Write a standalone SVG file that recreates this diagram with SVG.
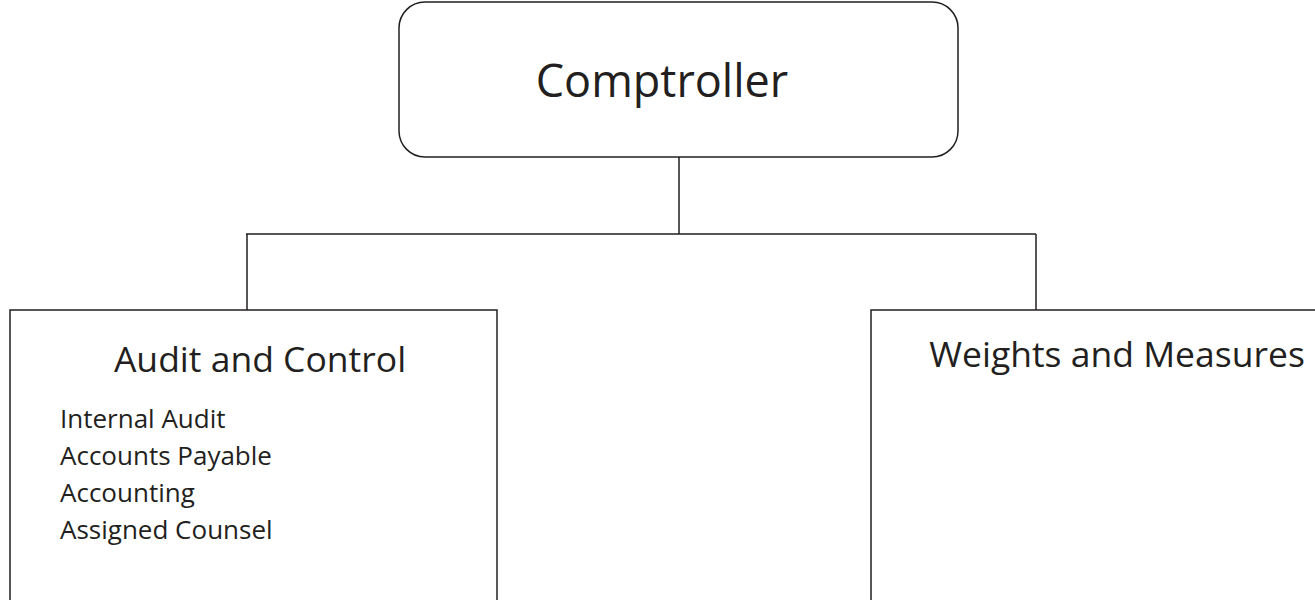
<svg xmlns="http://www.w3.org/2000/svg" width="1315" height="600" viewBox="0 0 1315 600">
<style>
.box{fill:#fff;stroke:#231f20;stroke-width:1.5}
.ln{fill:none;stroke:#231f20;stroke-width:1.5}
text{font-family:"Open Sans","Liberation Sans",sans-serif;fill:#231f20}
.t1{font-size:45px;text-anchor:middle}
.t2{font-size:35.5px;text-anchor:middle}
.t3{font-size:26px}
</style>
<rect width="1315" height="600" fill="#fff"/>
<g id="connectors">
<path class="ln" d="M679,157 V234 M246,234 H1036 M247,234 V310 M1036,234 V310"/>
</g>
<g id="comptroller">
<rect class="box" x="399" y="2" width="559" height="155" rx="26" ry="26"/>
<text class="t1" x="662" y="97">Comptroller</text>
</g>
<g id="audit">
<rect class="box" x="10" y="310" width="487" height="300"/>
<text class="t2" x="260" y="372">Audit and Control</text>
<text class="t3" x="60" y="428">Internal Audit</text>
<text class="t3" x="60" y="465">Accounts Payable</text>
<text class="t3" x="60" y="502">Accounting</text>
<text class="t3" x="60" y="539">Assigned Counsel</text>
</g>
<g id="weights">
<rect class="box" x="871" y="310" width="460" height="300"/>
<text class="t2" x="1117" y="367">Weights and Measures</text>
</g>
</svg>
